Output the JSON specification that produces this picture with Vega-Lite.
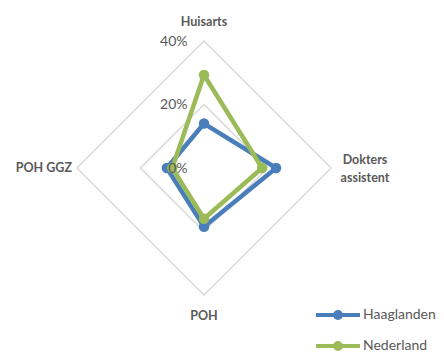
{
  "$schema": "https://vega.github.io/schema/vega-lite/v6.json",
  "width": 254,
  "height": 254,
  "autosize": "none",
  "padding": {"left": 77, "top": 41, "right": 113, "bottom": 64},
  "background": "white",
  "config": {"view": {"stroke": null}, "font": "Lato"},
  "datasets": {
    "series": [
      {"reeks": "Haaglanden", "categorie": "Huisarts", "waarde": 0.14},
      {"reeks": "Haaglanden", "categorie": "Dokters assistent", "waarde": 0.227},
      {"reeks": "Haaglanden", "categorie": "POH", "waarde": 0.185},
      {"reeks": "Haaglanden", "categorie": "POH GGZ", "waarde": 0.117},
      {"reeks": "Nederland", "categorie": "Huisarts", "waarde": 0.293},
      {"reeks": "Nederland", "categorie": "Dokters assistent", "waarde": 0.183},
      {"reeks": "Nederland", "categorie": "POH", "waarde": 0.16},
      {"reeks": "Nederland", "categorie": "POH GGZ", "waarde": 0.10}
    ],
    "grid": [
      {"ring": 0.4, "categorie": "Huisarts"},
      {"ring": 0.4, "categorie": "Dokters assistent"},
      {"ring": 0.4, "categorie": "POH"},
      {"ring": 0.4, "categorie": "POH GGZ"},
      {"ring": 0.2, "categorie": "Huisarts"},
      {"ring": 0.2, "categorie": "Dokters assistent"},
      {"ring": 0.2, "categorie": "POH"},
      {"ring": 0.2, "categorie": "POH GGZ"}
    ]
  },
  "encoding": {
    "x": {"field": "x", "type": "quantitative", "scale": {"domain": [-0.4, 0.4], "nice": false, "zero": false}, "axis": null},
    "y": {"field": "y", "type": "quantitative", "scale": {"domain": [-0.4, 0.4], "nice": false, "zero": false},
      "axis": {"values": [0, 0.2, 0.4], "format": ".0%", "offset": -127, "labelPadding": 17, "domain": false, "ticks": false, "grid": false, "title": null, "labelFontSize": 14, "labelColor": "#595959", "labelFont": "Lato", "zindex": 1}}
  },
  "layer": [
    {
      "data": {"name": "grid"},
      "transform": [
        {"calculate": "datum.categorie === 'Dokters assistent' ? datum.ring : (datum.categorie === 'POH GGZ' ? -datum.ring : 0)", "as": "x"},
        {"calculate": "datum.categorie === 'Huisarts' ? datum.ring : (datum.categorie === 'POH' ? -datum.ring : 0)", "as": "y"}
      ],
      "mark": {"type": "line", "interpolate": "linear-closed", "stroke": "#D9D9D9", "strokeWidth": 1.5},
      "encoding": {"detail": {"field": "ring"}, "order": {"value": null}}
    },
    {
      "data": {"name": "series"},
      "transform": [
        {"filter": "datum.reeks === 'Haaglanden'"},
        {"calculate": "datum.categorie === 'Dokters assistent' ? datum.waarde : (datum.categorie === 'POH GGZ' ? -datum.waarde : 0)", "as": "x"},
        {"calculate": "datum.categorie === 'Huisarts' ? datum.waarde : (datum.categorie === 'POH' ? -datum.waarde : 0)", "as": "y"}
      ],
      "layer": [
        {"mark": {"type": "line", "interpolate": "linear-closed", "strokeWidth": 4.5, "strokeJoin": "round"},
         "encoding": {"order": {"value": null}, "color": {"field": "reeks", "type": "nominal", "scale": {"domain": ["Haaglanden", "Nederland"], "range": ["#4A7EBB", "#9BBB59"]},
           "legend": {"orient": "none", "legendX": 250, "legendY": 263, "title": null,
             "symbolType": "M-2,-0.18H2V0.18H-2Z M-0.45,0A0.45,0.45 0 1,1 0.45,0A0.45,0.45 0 1,1 -0.45,0Z",
             "symbolSize": 484, "symbolStrokeWidth": 0, "symbolOpacity": 1,
             "labelFontSize": 14, "labelColor": "#595959", "labelFont": "Lato", "labelOffset": 14, "rowPadding": 13}}}},
        {"mark": {"type": "point", "filled": true, "opacity": 1, "size": 110},
         "encoding": {"color": {"field": "reeks", "type": "nominal"}}}
      ]
    },
    {
      "data": {"name": "series"},
      "transform": [
        {"filter": "datum.reeks === 'Nederland'"},
        {"calculate": "datum.categorie === 'Dokters assistent' ? datum.waarde : (datum.categorie === 'POH GGZ' ? -datum.waarde : 0)", "as": "x"},
        {"calculate": "datum.categorie === 'Huisarts' ? datum.waarde : (datum.categorie === 'POH' ? -datum.waarde : 0)", "as": "y"}
      ],
      "layer": [
        {"mark": {"type": "line", "interpolate": "linear-closed", "strokeWidth": 4.5, "strokeJoin": "round"},
         "encoding": {"order": {"value": null}, "color": {"field": "reeks", "type": "nominal"}}},
        {"mark": {"type": "point", "filled": true, "opacity": 1, "size": 110},
         "encoding": {"color": {"field": "reeks", "type": "nominal"}}}
      ]
    },
    {
      "data": {"name": "grid"},
      "transform": [
        {"filter": "datum.ring === 0.4"},
        {"calculate": "datum.categorie === 'Dokters assistent' ? datum.ring : (datum.categorie === 'POH GGZ' ? -datum.ring : 0)", "as": "x"},
        {"calculate": "datum.categorie === 'Huisarts' ? datum.ring : (datum.categorie === 'POH' ? -datum.ring : 0)", "as": "y"}
      ],
      "layer": [
        {"transform": [{"filter": "datum.categorie === 'Huisarts'"}],
         "mark": {"type": "text", "fontWeight": "bold", "fontSize": 12.5, "color": "#595959", "align": "center", "baseline": "middle", "dy": -19},
         "encoding": {"text": {"field": "categorie"}}},
        {"transform": [{"filter": "datum.categorie === 'Dokters assistent'"}],
         "mark": {"type": "text", "fontWeight": "bold", "fontSize": 12.5, "color": "#595959", "align": "center", "baseline": "middle", "dx": 34, "dy": -8, "lineBreak": " ", "lineHeight": 18},
         "encoding": {"text": {"field": "categorie"}}},
        {"transform": [{"filter": "datum.categorie === 'POH'"}],
         "mark": {"type": "text", "fontWeight": "bold", "fontSize": 12.5, "color": "#595959", "align": "center", "baseline": "middle", "dy": 21},
         "encoding": {"text": {"field": "categorie"}}},
        {"transform": [{"filter": "datum.categorie === 'POH GGZ'"}],
         "mark": {"type": "text", "fontWeight": "bold", "fontSize": 12.5, "color": "#595959", "align": "right", "baseline": "middle", "dx": -5},
         "encoding": {"text": {"field": "categorie"}}}
      ]
    }
  ]
}
